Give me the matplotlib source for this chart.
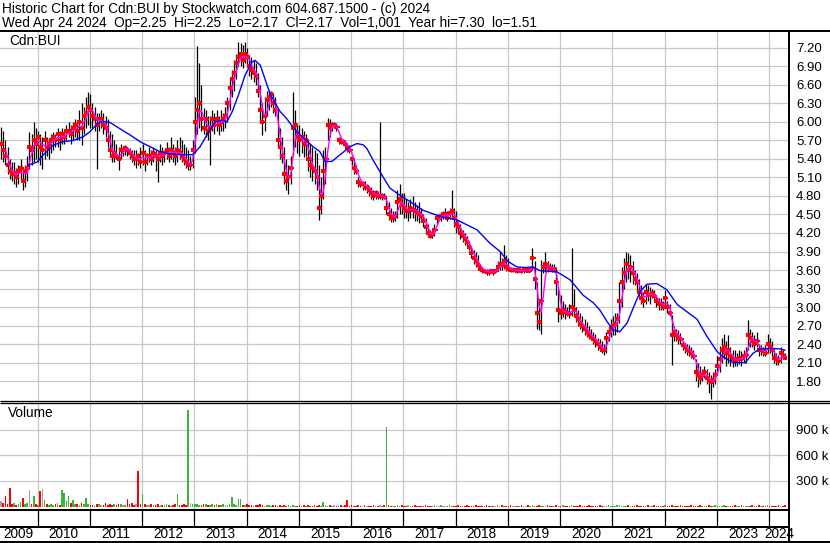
import numpy as np
import pandas as pd
import matplotlib
matplotlib.use("Agg")
import matplotlib.pyplot as plt
from matplotlib.lines import Line2D

plt.rcParams['font.family'] = ['Liberation Sans', 'DejaVu Sans']

W, H = 830, 543

# half-month bars, first one mid April 2009
hi = [
    5.92, 5.85, 5.70, 5.60, 5.40, 5.35, 5.35, 5.25, 5.30, 5.40,
    5.25, 5.30, 5.45, 5.84, 5.80, 6.00, 5.90, 5.85, 5.80, 5.75,
    5.85, 5.75, 5.70, 5.80, 5.84, 5.80, 5.90, 5.85, 5.90, 5.85,
    5.95, 6.00, 5.95, 6.00, 6.05, 6.00, 6.20, 6.30, 6.25, 6.40,
    6.49, 6.45, 6.30, 6.25, 6.15, 6.15, 6.20, 6.15, 6.10, 6.05,
    5.85, 5.80, 5.70, 5.65, 5.60, 5.65, 5.60, 5.62, 5.60, 5.58,
    5.55, 5.55, 5.54, 5.50, 5.60, 5.65, 5.55, 5.50, 5.60, 5.55,
    5.60, 5.55, 5.50, 5.65, 5.60, 5.55, 5.68, 5.60, 5.75, 5.65,
    5.60, 5.70, 5.76, 5.70, 5.65, 5.60, 5.55, 5.45, 5.70, 6.40,
    7.24, 6.95, 6.60, 6.22, 6.20, 6.10, 6.10, 6.20, 6.15, 6.20,
    6.10, 6.20, 6.15, 6.25, 6.40, 6.70, 6.85, 7.00, 7.10, 7.30,
    7.28, 7.25, 7.30, 7.20, 7.08, 7.05, 7.00, 6.95, 6.80, 6.60,
    6.30, 6.40, 6.50, 6.52, 6.50, 6.45, 6.40, 6.20, 5.90, 5.75,
    5.60, 5.40, 5.30, 5.45, 6.49, 6.20, 5.98, 5.95, 5.90, 5.85,
    5.80, 5.71, 5.65, 5.60, 5.55, 5.50, 5.30, 5.10, 5.55, 5.60,
    6.06, 6.05, 6.00, 6.00, 5.98, 5.75, 5.72, 5.72, 5.70, 5.62,
    5.62, 5.45, 5.40, 5.30, 5.10, 5.05, 5.05, 5.05, 5.00, 4.95,
    4.95, 4.90, 4.90, 4.88, 6.00, 4.85, 4.85, 4.80, 4.70, 4.60,
    4.55, 4.55, 4.90, 5.00, 4.85, 4.85, 4.75, 4.70, 4.75, 4.80,
    4.70, 4.65, 4.70, 4.60, 4.50, 4.45, 4.35, 4.25, 4.25, 4.35,
    4.50, 4.50, 4.52, 4.55, 4.60, 4.55, 4.60, 4.90, 4.60, 4.55,
    4.40, 4.35, 4.25, 4.20, 4.15, 4.05, 3.95, 3.92, 3.90, 3.85,
    3.70, 3.65, 3.62, 3.62, 3.60, 3.62, 3.60, 3.62, 3.75, 3.90,
    3.80, 4.00, 3.85, 3.80, 3.65, 3.65, 3.63, 3.63, 3.63, 3.62,
    3.62, 3.63, 3.62, 3.65, 3.95, 3.75, 3.40, 3.10, 3.76, 3.73,
    3.90, 3.75, 3.72, 3.70, 3.70, 3.65, 3.30, 3.20, 3.10, 3.05,
    3.00, 3.05, 3.95, 3.30, 3.00, 2.95, 2.90, 2.85, 2.80, 2.75,
    2.70, 2.65, 2.60, 2.57, 2.50, 2.48, 2.45, 2.40, 2.60, 2.70,
    2.80, 2.85, 2.90, 2.90, 3.40, 3.65, 3.80, 3.90, 3.87, 3.85,
    3.75, 3.60, 3.55, 3.45, 3.35, 3.25, 3.38, 3.35, 3.33, 3.30,
    3.27, 3.20, 3.15, 3.15, 3.10, 3.27, 3.10, 3.05, 2.87, 2.70,
    2.65, 2.62, 2.58, 2.45, 2.42, 2.40, 2.38, 2.35, 2.30, 2.15,
    2.10, 2.05, 2.00, 2.05, 2.00, 1.95, 1.90, 1.95, 2.00, 2.20,
    2.36, 2.50, 2.57, 2.45, 2.55, 2.35, 2.30, 2.30, 2.25, 2.30,
    2.28, 2.30, 2.35, 2.79, 2.65, 2.60, 2.55, 2.60, 2.40, 2.38,
    2.35, 2.38, 2.57, 2.50, 2.45, 2.30, 2.25, 2.22, 2.35, 2.30, 2.25,
]
lo = [
    5.40, 5.35, 5.30, 5.15, 5.08, 5.05, 5.00, 4.95, 5.00, 5.05,
    4.89, 4.95, 5.05, 5.24, 5.30, 5.35, 5.40, 5.35, 5.30, 5.24,
    5.40, 5.45, 5.40, 5.50, 5.55, 5.60, 5.60, 5.55, 5.65, 5.65,
    5.70, 5.75, 5.65, 5.70, 5.75, 5.70, 5.70, 5.62, 5.80, 5.90,
    5.95, 5.90, 5.90, 5.85, 5.24, 5.85, 5.90, 5.80, 5.75, 5.60,
    5.45, 5.35, 5.35, 5.40, 5.22, 5.40, 5.45, 5.46, 5.45, 5.40,
    5.35, 5.30, 5.25, 5.30, 5.25, 5.30, 5.20, 5.30, 5.35, 5.30,
    5.35, 5.20, 5.03, 5.35, 5.30, 5.35, 5.40, 5.35, 5.40, 5.35,
    5.30, 5.35, 5.40, 5.35, 5.30, 5.25, 5.22, 5.22, 5.25, 5.50,
    5.80, 5.90, 5.85, 5.80, 5.75, 5.70, 5.30, 5.85, 5.80, 5.85,
    5.79, 5.85, 5.85, 5.90, 6.00, 6.20, 6.40, 6.50, 6.70, 6.90,
    6.90, 6.87, 6.95, 6.90, 6.75, 6.70, 6.65, 6.60, 6.40, 6.00,
    5.79, 5.85, 6.10, 6.20, 6.25, 6.15, 6.10, 5.60, 5.40, 5.33,
    5.00, 4.90, 4.84, 5.00, 5.45, 5.60, 5.50, 5.45, 5.50, 5.44,
    5.45, 5.20, 5.10, 5.05, 5.00, 4.90, 4.41, 4.50, 4.75, 5.00,
    5.70, 5.76, 5.85, 5.90, 5.85, 5.65, 5.65, 5.65, 5.60, 5.52,
    5.50, 5.30, 5.15, 5.15, 4.95, 4.95, 4.90, 4.90, 4.85, 4.80,
    4.75, 4.74, 4.75, 4.75, 4.75, 4.74, 4.75, 4.50, 4.41, 4.38,
    4.38, 4.40, 4.45, 4.50, 4.50, 4.45, 4.45, 4.40, 4.45, 4.45,
    4.40, 4.40, 4.36, 4.38, 4.30, 4.20, 4.14, 4.12, 4.12, 4.15,
    4.35, 4.40, 4.40, 4.42, 4.42, 4.40, 4.42, 4.45, 4.30, 4.20,
    4.20, 4.10, 4.05, 4.00, 3.98, 3.92, 3.80, 3.70, 3.65, 3.62,
    3.58, 3.55, 3.55, 3.52, 3.52, 3.55, 3.52, 3.55, 3.58, 3.60,
    3.60, 3.62, 3.58, 3.58, 3.57, 3.57, 3.56, 3.55, 3.56, 3.55,
    3.55, 3.56, 3.56, 3.56, 3.60, 3.30, 2.65, 2.63, 2.57, 3.55,
    3.57, 3.57, 3.58, 3.57, 3.57, 3.20, 2.76, 2.80, 2.84, 2.80,
    2.85, 2.82, 2.85, 2.85, 2.75, 2.70, 2.65, 2.60, 2.55, 2.52,
    2.48, 2.46, 2.40, 2.35, 2.30, 2.28, 2.25, 2.22, 2.25, 2.45,
    2.52, 2.55, 2.55, 2.60, 2.74, 3.00, 3.30, 3.40, 3.45, 3.40,
    3.38, 3.35, 3.25, 3.15, 3.05, 3.00, 3.05, 3.10, 3.05, 3.15,
    3.12, 3.00, 2.95, 2.95, 2.95, 3.00, 2.90, 2.85, 2.06, 2.45,
    2.45, 2.40, 2.40, 2.30, 2.25, 2.22, 2.20, 2.18, 2.15, 1.80,
    1.71, 1.75, 1.80, 1.85, 1.75, 1.60, 1.51, 1.70, 1.75, 1.90,
    1.95, 2.10, 2.15, 2.05, 2.10, 2.05, 2.03, 2.05, 2.05, 2.08,
    2.05, 2.10, 2.10, 2.30, 2.35, 2.35, 2.30, 2.35, 2.20, 2.22,
    2.20, 2.20, 2.25, 2.25, 2.20, 2.10, 2.06, 2.06, 2.10, 2.15, 2.17,
]
close = [
    5.65, 5.55, 5.45, 5.30, 5.20, 5.15, 5.18, 5.10, 5.20, 5.25,
    5.05, 5.20, 5.25, 5.60, 5.55, 5.70, 5.65, 5.75, 5.60, 5.55,
    5.70, 5.60, 5.65, 5.70, 5.75, 5.70, 5.80, 5.72, 5.80, 5.75,
    5.85, 5.85, 5.80, 5.90, 5.95, 5.85, 6.00, 5.90, 6.10, 6.15,
    6.25, 6.20, 6.10, 6.05, 5.95, 6.05, 6.05, 5.95, 5.90, 5.70,
    5.55, 5.45, 5.50, 5.45, 5.40, 5.55, 5.55, 5.58, 5.55, 5.50,
    5.45, 5.40, 5.40, 5.45, 5.35, 5.50, 5.35, 5.45, 5.45, 5.40,
    5.50, 5.45, 5.40, 5.50, 5.45, 5.50, 5.55, 5.45, 5.55, 5.50,
    5.45, 5.55, 5.50, 5.45, 5.40, 5.35, 5.30, 5.30, 5.55, 6.00,
    6.20, 6.30, 6.05, 5.90, 6.05, 5.85, 5.90, 6.05, 5.95, 6.05,
    5.95, 6.00, 6.05, 6.10, 6.30, 6.55, 6.70, 6.80, 6.95, 7.05,
    7.10, 7.00, 7.10, 7.05, 6.90, 6.85, 6.80, 6.75, 6.50, 6.20,
    6.00, 6.10, 6.35, 6.40, 6.45, 6.30, 6.20, 5.70, 5.60, 5.45,
    5.15, 5.05, 5.10, 5.25, 5.90, 5.95, 5.75, 5.70, 5.75, 5.65,
    5.70, 5.40, 5.30, 5.25, 5.20, 5.10, 4.60, 4.80, 5.20, 5.40,
    5.95, 5.90, 5.95, 5.95, 5.92, 5.70, 5.68, 5.68, 5.65, 5.58,
    5.55, 5.40, 5.25, 5.20, 5.03, 5.00, 5.00, 4.95, 4.95, 4.90,
    4.85, 4.80, 4.85, 4.80, 4.80, 4.80, 4.78, 4.60, 4.50, 4.45,
    4.45, 4.48, 4.70, 4.75, 4.65, 4.60, 4.55, 4.55, 4.60, 4.58,
    4.55, 4.52, 4.50, 4.48, 4.40, 4.30, 4.20, 4.15, 4.18, 4.25,
    4.45, 4.45, 4.48, 4.50, 4.50, 4.45, 4.52, 4.55, 4.45, 4.35,
    4.30, 4.20, 4.15, 4.10, 4.05, 3.98, 3.88, 3.80, 3.75, 3.68,
    3.62, 3.60, 3.58, 3.57, 3.56, 3.58, 3.57, 3.58, 3.65, 3.70,
    3.68, 3.75, 3.65, 3.62, 3.60, 3.60, 3.60, 3.58, 3.60, 3.58,
    3.60, 3.60, 3.58, 3.60, 3.80, 3.45, 2.90, 2.75, 3.10, 3.65,
    3.70, 3.65, 3.64, 3.62, 3.62, 3.40, 2.95, 2.90, 2.95, 2.92,
    2.90, 2.88, 3.00, 2.95, 2.85, 2.80, 2.72, 2.70, 2.65, 2.60,
    2.55, 2.52, 2.48, 2.45, 2.40, 2.35, 2.30, 2.30, 2.50, 2.60,
    2.65, 2.70, 2.72, 2.80, 3.10, 3.40, 3.55, 3.70, 3.60, 3.65,
    3.55, 3.45, 3.40, 3.25, 3.15, 3.10, 3.25, 3.20, 3.20, 3.22,
    3.18, 3.10, 3.05, 3.05, 3.00, 3.15, 3.00, 2.90, 2.55, 2.60,
    2.55, 2.50, 2.48, 2.38, 2.35, 2.30, 2.28, 2.25, 2.20, 1.95,
    1.90, 1.85, 1.90, 1.95, 1.85, 1.80, 1.78, 1.82, 1.90, 2.05,
    2.15, 2.30, 2.35, 2.25, 2.30, 2.20, 2.15, 2.12, 2.15, 2.18,
    2.15, 2.20, 2.22, 2.55, 2.50, 2.45, 2.40, 2.45, 2.30, 2.30,
    2.28, 2.25, 2.40, 2.35, 2.30, 2.18, 2.15, 2.12, 2.25, 2.20, 2.17,
]
# volume in thousands, same half-month steps
vol = [
    60, 40, 125, 30, 215, 25, 45, 20, 35, 50,
    98, 30, 40, 196, 25, 118, 35, 20, 176, 208,
    78, 30, 15, 25, 20, 35, 40, 20, 196, 157,
    60, 125, 45, 78, 30, 25, 20, 40, 35, 98,
    30, 15, 20, 10, 25, 30, 15, 20, 40, 20,
    25, 15, 30, 20, 25, 35, 20, 15, 86, 30,
    40, 20, 30, 420, 25, 145, 30, 15, 20, 25,
    15, 20, 30, 10, 15, 20, 25, 15, 10, 20,
    25, 145, 20, 15, 30, 20, 1130, 40, 25, 30,
    35, 20, 15, 25, 30, 20, 15, 25, 20, 30,
    15, 20, 25, 15, 20, 30, 110, 25, 20, 86,
    86, 20, 15, 25, 20, 15, 10, 20, 15, 25,
    15, 10, 20, 15, 10, 15, 20, 10, 15, 10,
    15, 10, 20, 10, 15, 10, 10, 15, 10, 20,
    10, 15, 10, 10, 15, 10, 20, 10, 50, 15,
    10, 15, 10, 20, 10, 10, 15, 10, 20, 75,
    10, 15, 10, 10, 15, 10, 10, 15, 10, 10,
    10, 15, 10, 10, 20, 10, 15, 930, 20, 10,
    10, 8, 12, 10, 15, 8, 10, 12, 8, 10,
    12, 8, 10, 10, 8, 12, 10, 8, 10, 12,
    8, 10, 12, 8, 10, 10, 12, 8, 10, 10,
    12, 10, 8, 10, 12, 10, 8, 10, 12, 8,
    10, 10, 8, 12, 10, 8, 10, 10, 12, 8,
    20, 10, 8, 10, 12, 8, 10, 10, 8, 12,
    10, 8, 12, 10, 15, 10, 8, 12, 10, 8,
    10, 12, 8, 10, 10, 12, 8, 10, 12, 10,
    8, 10, 12, 10, 8, 10, 12, 8, 10, 10,
    12, 8, 10, 10, 8, 12, 10, 8, 10, 12,
    10, 8, 10, 15, 12, 10, 8, 10, 12, 10,
    8, 10, 12, 10, 8, 10, 10, 12, 8, 10,
    12, 10, 8, 10, 10, 12, 8, 10, 12, 10,
    8, 10, 12, 10, 8, 10, 10, 12, 8, 10,
    10, 12, 8, 10, 10, 12, 8, 10, 12, 10,
    8, 10, 12, 10, 8, 10, 10, 12, 8, 10,
    12, 10, 8, 10, 10, 15, 8, 10, 12, 10,
    8, 10, 12, 10, 8, 10, 10, 20, 8, 10, 12,
]
spike_idx = [13, 19, 28, 29, 31, 63, 86, 106, 177]
spike_col = ['gray', 'gray', 'green', 'green', 'green', 'red', 'green', 'green', 'green']

# long moving average (blue)
blue_t = [2009.82, 2009.99, 2010.10, 2010.29, 2010.47, 2010.68, 2010.87, 2011.00, 2011.14,
          2011.25, 2011.39, 2011.52, 2011.67, 2011.77, 2011.96, 2012.15, 2012.34, 2012.48,
          2012.72, 2012.97, 2013.11, 2013.24, 2013.39, 2013.53, 2013.62, 2013.72, 2013.84,
          2013.97, 2014.10, 2014.16, 2014.26, 2014.35, 2014.45, 2014.64, 2014.77, 2014.89,
          2015.06, 2015.27, 2015.40, 2015.50, 2015.63, 2015.79, 2015.98, 2016.11, 2016.23,
          2016.30, 2016.42, 2016.61, 2016.74, 2016.90, 2017.07, 2017.37, 2017.70, 2018.03,
          2018.22, 2018.41, 2018.66, 2018.85, 2019.00, 2019.17, 2019.33, 2019.48, 2019.61,
          2019.94, 2020.19, 2020.44, 2020.63, 2020.76, 2020.90, 2021.01, 2021.14, 2021.28,
          2021.39, 2021.53, 2021.66, 2021.85, 2022.04, 2022.24, 2022.43, 2022.62, 2022.81,
          2023.00, 2023.12, 2023.31, 2023.54, 2023.69, 2023.82, 2024.01, 2024.21, 2024.30]
blue_v = [5.30, 5.35, 5.46, 5.62, 5.68, 5.70, 5.76, 5.84, 5.97,
          6.01, 5.99, 5.92, 5.84, 5.79, 5.68, 5.60, 5.52, 5.49,
          5.47, 5.47, 5.60, 5.79, 6.00, 6.03, 6.00, 6.16, 6.43,
          6.76, 6.97, 7.00, 6.92, 6.70, 6.45, 6.17, 6.05, 5.91,
          5.76, 5.60, 5.52, 5.36, 5.36, 5.47, 5.60, 5.65, 5.63,
          5.57, 5.38, 5.11, 4.93, 4.83, 4.74, 4.57, 4.47, 4.41,
          4.33, 4.25, 4.03, 3.90, 3.74, 3.65, 3.64, 3.65, 3.59,
          3.57, 3.44, 3.19, 3.07, 2.95, 2.76, 2.63, 2.60, 2.74,
          2.97, 3.25, 3.37, 3.38, 3.28, 3.04, 2.92, 2.80, 2.52,
          2.28, 2.19, 2.10, 2.10, 2.25, 2.32, 2.33, 2.32, 2.30]

years = list(range(2009, 2025))
price_ticks = [1.80, 2.10, 2.40, 2.70, 3.00, 3.30, 3.60, 3.90, 4.20, 4.50,
               4.80, 5.10, 5.40, 5.70, 6.00, 6.30, 6.60, 6.90, 7.20]
vol_ticks = [300, 600, 900]

X0, X1 = 2009.28, 2024.378
GRID = '#c8c8c8'


def box(l, t, r, b):
    return [l / W, 1 - b / H, (r - l) / W, (b - t) / H]


def fline(x0, y0, x1, y1, lw=1.0):
    fig.add_artist(Line2D([x0 / W, x1 / W], [1 - y0 / H, 1 - y1 / H],
                          color='black', lw=lw * 0.72, solid_capstyle='butt'))


def bare(ax):
    for s in ax.spines.values():
        s.set_visible(False)
    ax.set_xlim(X0, X1)
    ax.set_xticks([])


fig = plt.figure(figsize=(W / 100, H / 100), dpi=100)
fig.patch.set_facecolor('white')

n = min(len(hi), len(lo), len(close))
hi_a, lo_a, cl_a = np.array(hi[:n]), np.array(lo[:n]), np.array(close[:n])
t = 2009.30 + np.arange(n) / 24.0

# ---- price panel ----
ax = fig.add_axes(box(0, 32, 789, 401))
bare(ax)
ax.set_ylim(1.476, 7.459)
for y in years[1:]:
    ax.axvline(y, color=GRID, lw=0.9, zorder=0)
for p in price_ticks:
    ax.axhline(p, color=GRID, lw=0.9, zorder=0)
ax.yaxis.tick_right()
ax.set_yticks(price_ticks)
ax.set_yticklabels([f"{p:.2f}" for p in price_ticks])
ax.tick_params(axis='y', length=0, pad=5, labelsize=9.5)

ax.vlines(t, lo_a, hi_a, colors='black', lw=0.9, zorder=2)
ax.plot(t, cl_a, ls='none', marker='s', ms=2.3, mew=0, color='#ff0000', zorder=3)
ax.plot(t[1:], cl_a[:-1], ls='none', marker='s', ms=2.0, mew=0, color='#ff0000', zorder=3)
ma_short = pd.Series(cl_a).rolling(3).mean()
ax.plot(t, ma_short, color='#ff00ff', lw=1.0, zorder=4)
ax.plot(blue_t, blue_v, color='#0000ff', lw=1.0, zorder=4)
ax.text(9 / 789, 1 - 9 / 369, 'Cdn:BUI', transform=ax.transAxes, fontsize=9.8, va='center', ha='left')

# ---- volume panel ----
m = min(n, len(vol))
v = np.array(vol[:m], dtype=float)
cols = []
for i in range(m):
    if i == 0 or cl_a[i] == cl_a[i - 1]:
        cols.append('#a0a0a0')
    elif cl_a[i] > cl_a[i - 1]:
        cols.append('#3cb43c')
    else:
        cols.append('#ff0000')
cmap = {'red': '#ff0000', 'green': '#3cb43c', 'gray': '#a0a0a0'}
for i, c in zip(spike_idx, spike_col):
    if i < m:
        cols[i] = cmap[c]

axv = fig.add_axes(box(0, 403, 789, 509))
bare(axv)
axv.set_ylim(-29, 1212)
for y in years[1:]:
    axv.axvline(y, color=GRID, lw=0.9, zorder=0)
for q in vol_ticks:
    axv.axhline(q, color=GRID, lw=0.9, zorder=0)
axv.bar(t[:m], v, width=0.75 / 24, bottom=0, color=cols, lw=0, zorder=2)
axv.yaxis.tick_right()
axv.set_yticks(vol_ticks)
axv.set_yticklabels([f"{q} k" for q in vol_ticks])
axv.tick_params(axis='y', length=0, pad=5, labelsize=9.5)
axv.text(8 / 789, 1 - 10 / 106, 'Volume', transform=axv.transAxes, fontsize=9.8, va='center', ha='left')

# ---- date band and year labels ----
axb = fig.add_axes(box(0, 510, 789, 526.5))
bare(axb)
axb.set_yticks([])
axb.set_ylim(0, 1)
axb.vlines(years[1:], 0, 1, colors='black', lw=0.9)

axl = fig.add_axes(box(0, 527, 789, 541))
bare(axl)
axl.set_yticks([])
axl.set_ylim(0, 1)
for y in years:
    a, b = max(y, X0), min(y + 1, X1)
    axl.text((a + b) / 2, 0.5, str(y), ha='center', va='center', fontsize=9.8)

# ---- frame lines ----
fline(0, 31, 830, 31, 2)
fline(789, 31, 789, 542, 2)
fline(0, 400.5, 830, 400.5, 1.3)
fline(0, 403, 830, 403, 1.3)
fline(0, 509.5, 789, 509.5, 2)
fline(0, 526.5, 789, 526.5, 2)
fline(0, 541.5, 830, 541.5, 2)
fline(829.5, 31, 829.5, 542, 1)

fig.text(2 / W, 1 - 9.5 / H, "Historic Chart for Cdn:BUI by Stockwatch.com 604.687.1500 - (c) 2024",
         fontsize=9.8, va='center', ha='left')
fig.text(2 / W, 1 - 22.5 / H,
         "Wed Apr 24 2024  Op=2.25  Hi=2.25  Lo=2.17  Cl=2.17  Vol=1,001  Year hi=7.30  lo=1.51",
         fontsize=9.8, va='center', ha='left')

fig.savefig('out.png', dpi=100)
